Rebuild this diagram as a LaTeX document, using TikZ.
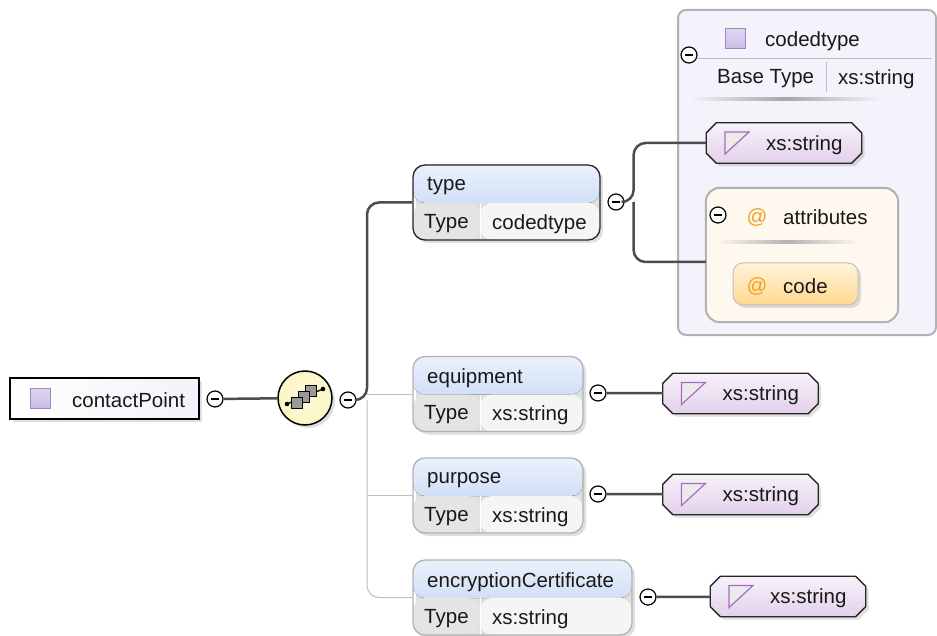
\documentclass[tikz,border=0pt]{standalone}
\usepackage{fontspec}
\setmainfont{Liberation Sans}
\usetikzlibrary{shadows,calc}

\definecolor{hdtop}{HTML}{EAF1FC}
\definecolor{hdbot}{HTML}{B9CEF1}
\definecolor{celltype}{HTML}{E4E4E4}
\definecolor{cellval}{HTML}{F5F5F5}
\definecolor{lavfill}{HTML}{C9BCE6}
\definecolor{lavline}{HTML}{9C88C8}
\definecolor{stline}{HTML}{A66BC4}
\definecolor{sttop}{HTML}{F7F2FA}
\definecolor{stbot}{HTML}{E3D0EA}
\definecolor{panelfill}{HTML}{F4F2FA}
\definecolor{attrfill}{HTML}{FEF8EE}
\definecolor{codetop}{HTML}{FFF3DA}
\definecolor{codebot}{HTML}{FFD890}
\definecolor{atcol}{HTML}{F0A020}
\definecolor{seqfill}{HTML}{FBF6C4}

\begin{document}
\begin{tikzpicture}[x=1pt, y=-1pt, font=\fontsize{20.5}{24}\selectfont,
    txt/.style={inner sep=0pt, anchor=west, text=black!90, yshift=-2pt},
    minus/.style={circle, draw, line width=1.2pt, fill=white, inner sep=0pt, minimum size=16pt,
        path picture={\draw[line width=1.2pt] ([xshift=4pt]path picture bounding box.center) -- ([xshift=-4pt]path picture bounding box.center);}},
    conn/.style={line width=2.5pt, black!70},
    optconn/.style={line width=1pt, black!25},
    shadowed/.style={drop shadow={opacity=.25, shadow xshift=3pt, shadow yshift=-3pt}},
    elem/.style={rectangle, rounded corners=12pt, minimum height=75pt, inner sep=0pt, line width=1.3pt, shadowed,
        path picture={
            \fill[top color=hdtop, bottom color=hdbot] (path picture bounding box.north west) rectangle ([yshift=-38pt]path picture bounding box.north east);
            \fill[celltype] ([yshift=-38pt]path picture bounding box.north west) rectangle ([xshift=67pt]path picture bounding box.south west);
            \fill[cellval] ([xshift=67pt,yshift=-38pt]path picture bounding box.north west) rectangle (path picture bounding box.south east);
            \draw[white, line width=1pt] ([xshift=67pt,yshift=-38pt]path picture bounding box.north west) -- ([xshift=67pt]path picture bounding box.south west);
        }},
    req/.style={draw=black!85},
    opt/.style={draw=black!30},
    simple/.style={rectangle, minimum width=155pt, minimum height=40pt, inner sep=0pt},
    simplebox/.style={draw=black!85, line width=1.3pt, top color=sttop, bottom color=stbot, shadowed},
    sticon/.style={draw=stline, line width=1.2pt, fill=black!8},
    sqicon/.style={draw=lavline, line width=1pt, top color=lavfill!60, bottom color=lavfill, minimum size=20pt, inner sep=0pt},
    atsign/.style={inner sep=0pt, text=atcol, yshift=-2pt}
  ]
  \useasboundingbox (0,0) rectangle (937,636);

  % codedtype panel
  \draw[fill=panelfill, draw=black!30, line width=2pt, rounded corners=8pt] (678,10) -- (678,335) -- (936,335) -- (936,10) -- cycle;
  \node[minus] (pm) at (689,55) {};
  \node[sqicon] (pic) at (735,39) {};
  \node[txt] (ptitle) at (765,39) {codedtype};
  \draw[black!25, line width=1pt] ([yshift=-4pt]pm.east) -- ++(234,0);
  \draw[black!25, line width=1pt] (826,62) -- (826,92);
  \node[txt] (pbase) at (717,77) {Base Type};
  \node[txt] (pval) at (838,77) {xs:string};
  \shade[left color=panelfill, right color=panelfill, middle color=black!35] (690,98) rectangle (880,101);

  % root element
  \node[rectangle, draw=black, line width=1.5pt, left color=white, right color=panelfill, minimum width=189pt, minimum height=41pt, shadowed] (root) at (104.5,398.5) {};
  \node[sqicon] (rooticon) at (40,398) {};
  \node[txt] (rootlbl) at (72,398) {contactPoint};
  \node[minus] (m0) at (215,399) {};

  % sequence
  \node[circle, draw=black, line width=1.5pt, inner color=seqfill!60, outer color=seqfill, minimum size=54pt, shadowed] (seq) at (305,398) {};
  \draw[line width=1.3pt] ([shift={(-18,6)}]seq.center) -- ([shift={(18,-9)}]seq.center);
  \fill ([shift={(-18,6)}]seq.center) circle (2.3pt);
  \fill ([shift={(18,-9)}]seq.center) circle (2.3pt);
  \foreach \dx/\dy in {6/-7, -1/-1, -8/5}
    \draw[fill=black!40, line width=0.9pt] ([shift={(\dx-5.5,\dy-5.5)}]seq.center) rectangle ([shift={(\dx+5.5,\dy+5.5)}]seq.center);
  \node[minus] (m1) at (348,400) {};
  \coordinate (j) at (367,400);

  % child elements
  \node[elem, req, minimum width=187pt] (type) at (506.5,202.5) {};
  \node[elem, opt, minimum width=170pt] (equip) at (498,394) {};
  \node[elem, opt, minimum width=170pt] (purp) at (498,495.5) {};
  \node[elem, opt, minimum width=219pt] (enc) at (522.5,597.5) {};

  \node[txt] (typelbl) at (427,184) {type};
  \node[txt] (typek) at (424,222) {Type};
  \node[txt] (typev) at (492,222) {codedtype};
  \node[txt] (equiplbl) at (427,376) {equipment};
  \node[txt] (equipk) at (424,413) {Type};
  \node[txt] (equipv) at (492,413) {xs:string};
  \node[txt] (purplbl) at (427,478) {purpose};
  \node[txt] (purpk) at (424,515) {Type};
  \node[txt] (purpv) at (492,515) {xs:string};
  \node[txt] (enclbl) at (427,580) {encryptionCertificate};
  \node[txt] (enck) at (424,617) {Type};
  \node[txt] (encv) at (492,617) {xs:string};

  \node[minus] (m2) at (616,202) {};
  \node[minus] (m3) at (598,393) {};
  \node[minus] (m4) at (598,494) {};
  \node[minus] (m5) at (648,597) {};

  % simple types
  \node[simple] (st1) at (784,143) {};
  \node[simple] (st2) at (740.5,393.5) {};
  \node[simple] (st3) at (740.5,494.5) {};
  \node[simple] (st4) at (788,596.5) {};
  \foreach \s in {st1,st2,st3,st4} {
    \draw[simplebox] ([xshift=10pt]\s.north west) -- ([xshift=-10pt]\s.north east) -- ([yshift=-10pt]\s.north east)
      -- ([yshift=10pt]\s.south east) -- ([xshift=-10pt]\s.south east) -- ([xshift=10pt]\s.south west)
      -- ([yshift=10pt]\s.south west) -- ([yshift=-10pt]\s.north west) -- cycle;
    \draw[sticon] ([shift={(-59,-11)}]\s.center) -- ([shift={(-35,-11)}]\s.center) -- ([shift={(-59,11)}]\s.center) -- cycle;
    \node[txt] at ([xshift=-18pt]\s.center) {xs:string};
  }

  % attributes
  \node[rectangle, minimum width=192pt, minimum height=134pt, inner sep=0pt] (attr) at (802,255) {};
  \draw[fill=attrfill, draw=black!30, line width=2pt, rounded corners=14pt] (attr.south west) -- (attr.north west) -- (attr.north east) -- (attr.south east) -- cycle;
  \node[minus] (am) at (718,215) {};
  \node[atsign] (at1) at (757,215) {@};
  \node[txt] (attrlbl) at (783,215) {attributes};
  \shade[left color=attrfill, right color=attrfill, middle color=black!30] (715,241) rectangle (860,244);
  \node[rectangle, rounded corners=10pt, draw=black!25, line width=1pt, top color=codetop, bottom color=codebot, minimum width=125pt, minimum height=42pt, shadowed] (code) at (795.5,284) {};
  \node[atsign] (at2) at (757,284) {@};
  \node[txt] (codelbl) at (783,284) {code};

  % connectors
  \draw[conn] (m0) -- (seq);
  \draw[optconn, rounded corners=12pt] (j) |- (enc.west);
  \draw[optconn] (j |- equip.west) -- (equip.west);
  \draw[optconn] (j |- purp.west) -- (purp.west);
  \draw[conn, rounded corners=12pt] (m1.east) -- (j) |- (type.west);
  \draw[conn, rounded corners=12pt] (m2.east) -- ++(9,0) coordinate (k) |- (st1.west);
  \draw[conn, rounded corners=12pt] (k) |- ([yshift=-7pt]attr.west);
  \draw[conn] (m3) -- (st2);
  \draw[conn] (m4) -- (st3);
  \draw[conn] (m5) -- (st4);
\end{tikzpicture}
\end{document}
